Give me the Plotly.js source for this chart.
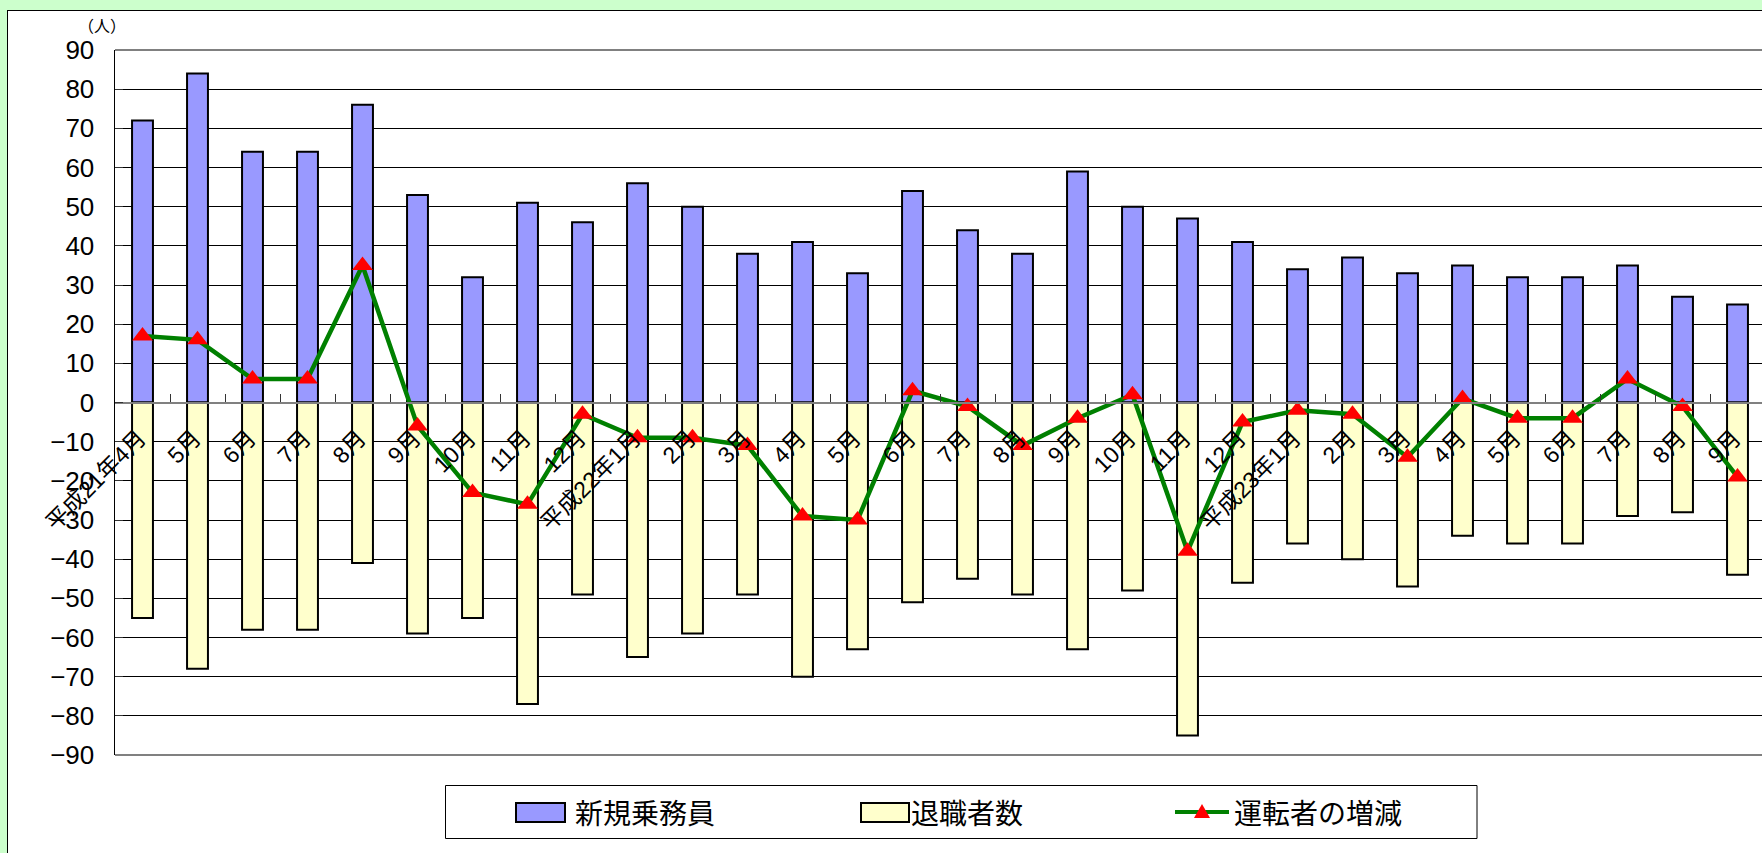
<!DOCTYPE html>
<html>
<head>
<meta charset="utf-8">
<script src="https://cdn.plot.ly/plotly-3.0.1.min.js"></script>
<style>
  html, body { margin: 0; padding: 0; background: #CCFFCC; overflow: hidden; width: 1762px; height: 853px; }
  #chart { position: absolute; left: 7px; top: 10px; border: 1px solid #000; background: #fff; }
</style>
</head>
<body>
<div id="chart"></div>
<script>
// ---- data ----
const categories = [
  "2009-04","2009-05","2009-06","2009-07","2009-08","2009-09","2009-10","2009-11","2009-12",
  "2010-01","2010-02","2010-03","2010-04","2010-05","2010-06","2010-07","2010-08","2010-09","2010-10","2010-11","2010-12",
  "2011-01","2011-02","2011-03","2011-04","2011-05","2011-06","2011-07","2011-08","2011-09"
];
const tickLabels = [
  "平成21年4月","5月","6月","7月","8月","9月","10月","11月","12月",
  "平成22年1月","2月","3月","4月","5月","6月","7月","8月","9月","10月","11月","12月",
  "平成23年1月","2月","3月","4月","5月","6月","7月","8月","9月"
];
const newCrew   = [72,84,64,64,76,53,32,51,46,56,50,38,41,33,54,44,38,59,50,47,41,34,37,33,35,32,32,35,27,25];
const retirees  = [-55,-68,-58,-58,-41,-59,-55,-77,-49,-65,-59,-49,-70,-63,-51,-45,-49,-63,-48,-85,-46,-36,-40,-47,-34,-36,-36,-29,-28,-44];
const netChange = [17,16,6,6,35,-6,-23,-26,-3,-9,-9,-11,-29,-30,3,-1,-11,-4,2,-38,-5,-2,-3,-14,1,-4,-4,6,-1,-19];
const seriesNames = ["新規乗務員","退職者数","運転者の増減"];
const unitLabel = "（人）";

// ---- styles ----
const BLUE = "#9999FF", YELLOW = "#FFFFCC", GREEN = "#008000", RED = "#FF0000";
const latin = "Liberation Sans, Arial, Noto Sans CJK JP, sans-serif";
const cjk = "Noto Sans CJK JP, Liberation Sans, sans-serif";

// page-pixel -> paper helpers (plot area: x 115..1765, y 50..755 in page px)
const PX0 = 115, PW = 1650, PY1 = 755, PH = 705;
const px = x => (x - PX0) / PW;
const py = y => (PY1 - y) / PH;

const traces = [
  { type: "bar", x: categories, y: newCrew, name: seriesNames[0],
    marker: { color: BLUE, line: { color: "#000", width: 2 } } },
  { type: "bar", x: categories, y: retirees, name: seriesNames[1],
    marker: { color: YELLOW, line: { color: "#000", width: 2 } } },
  { type: "scatter", mode: "lines+markers", x: categories, y: netChange, name: seriesNames[2],
    line: { color: GREEN, width: 4.5 },
    marker: { symbol: "triangle-up", size: 18, color: RED },
    cliponaxis: false }
];

const gray = "#808080";
const shapes = [
  // plot frame top/bottom
  { type: "line", xref: "paper", yref: "paper", x0: 0, x1: 1, y0: 1, y1: 1, line: { color: gray, width: 2 } },
  { type: "line", xref: "paper", yref: "paper", x0: 0, x1: 1, y0: 0, y1: 0, line: { color: gray, width: 2 } },
  // legend box
  { type: "rect", xref: "paper", yref: "paper", x0: px(445.5), x1: px(1477), y0: py(785.5), y1: py(838.5),
    fillcolor: "#fff", line: { color: "#000", width: 1 } },
  { type: "rect", xref: "paper", yref: "paper", x0: px(516), x1: px(565), y0: py(803), y1: py(822),
    fillcolor: BLUE, line: { color: "#000", width: 2 } },
  { type: "rect", xref: "paper", yref: "paper", x0: px(861), x1: px(909), y0: py(803), y1: py(822),
    fillcolor: YELLOW, line: { color: "#000", width: 2 } },
  { type: "line", xref: "paper", yref: "paper", x0: px(1175), x1: px(1229), y0: py(812), y1: py(812),
    line: { color: GREEN, width: 4 } },
  { type: "path", xref: "paper", yref: "paper",
    path: `M${px(1202)},${py(804)} L${px(1194)},${py(818)} L${px(1210)},${py(818)} Z`,
    fillcolor: RED, line: { color: RED, width: 0 } }
];

const annotations = [
  { xref: "paper", yref: "paper", x: px(102), y: py(25), text: unitLabel, showarrow: false,
    xanchor: "center", yanchor: "middle", font: { family: cjk, size: 16, color: "#000" } },
  { xref: "paper", yref: "paper", x: px(573), y: py(812), text: seriesNames[0], showarrow: false,
    xanchor: "left", yanchor: "middle", font: { family: cjk, size: 28, color: "#000" } },
  { xref: "paper", yref: "paper", x: px(909), y: py(812), text: seriesNames[1], showarrow: false,
    xanchor: "left", yanchor: "middle", font: { family: cjk, size: 28, color: "#000" } },
  { xref: "paper", yref: "paper", x: px(1232), y: py(812), text: seriesNames[2], showarrow: false,
    xanchor: "left", yanchor: "middle", font: { family: cjk, size: 28, color: "#000" } }
];

const layout = {
  width: 1800, height: 860,
  margin: { l: 107, r: 43, t: 39, b: 116, pad: 0 },
  paper_bgcolor: "#fff", plot_bgcolor: "#fff",
  showlegend: false,
  barmode: "relative", bargap: 0.62,
  xaxis: {
    type: "category", categoryorder: "array", categoryarray: categories,
    range: [-0.5, categories.length - 0.5], autorange: false,
    tickmode: "array", tickvals: categories, ticktext: tickLabels,
    tickangle: -45, tickson: "boundaries",
    ticks: "inside", ticklen: 8, tickcolor: "#333", tickwidth: 1,
    showline: true, linecolor: gray, linewidth: 2,
    anchor: "free", position: 0.5,
    showgrid: false, zeroline: false,
    tickfont: { family: latin, size: 23, color: "#000" },
    ticklabelstandoff: 12, ticklabelshift: -3,
    automargin: false, fixedrange: true
  },
  yaxis: {
    range: [-90, 90], autorange: false, tick0: 0, dtick: 10,
    showgrid: true, gridcolor: "#000", gridwidth: 1,
    zeroline: false,
    showline: true, linecolor: "#000", linewidth: 1.5,
    ticks: "inside", ticklen: 8, tickcolor: "#333",
    tickfont: { family: latin, size: 26, color: "#000" },
    ticklabelstandoff: 14,
    automargin: false, fixedrange: true
  },
  shapes: shapes,
  annotations: annotations
};

Plotly.newPlot("chart", traces, layout, { displayModeBar: false, staticPlot: true });
</script>
</body>
</html>
